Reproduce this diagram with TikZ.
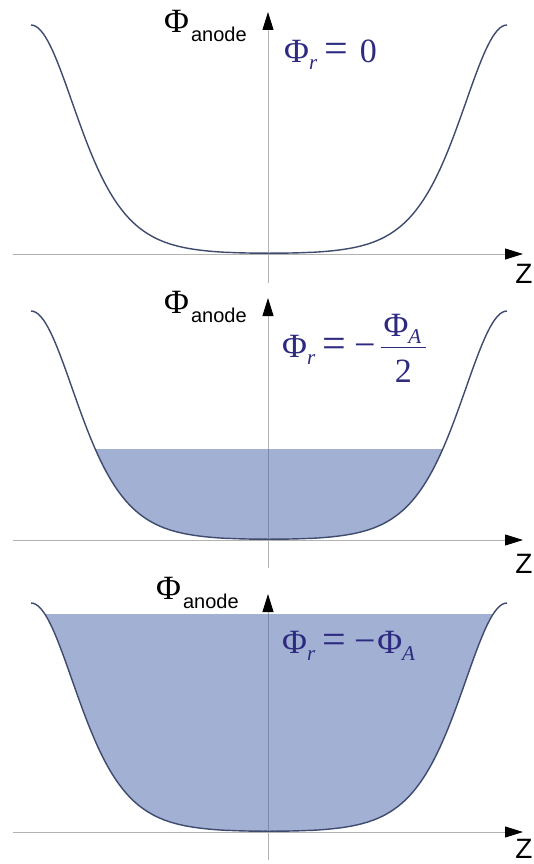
\documentclass[tikz,border=0pt]{standalone}
\usepackage{fontspec}
\setmainfont{Liberation Serif}
\newfontfamily\lsans{Liberation Sans}
\usetikzlibrary{arrows.meta}
\definecolor{fillblue}{RGB}{161,176,211}
\definecolor{curveblue}{RGB}{62,74,110}
\definecolor{formblue}{RGB}{45,42,128}
\definecolor{axisgray}{RGB}{178,178,178}
\definecolor{axisdark}{RGB}{125,137,170}
\newcommand\phianode{{\fontsize{34}{34}\selectfont Φ}\hspace{2pt}\raisebox{-9pt}{\lsans\fontsize{20}{20}\selectfont anode}}
\newcommand\fsub[1]{\raisebox{-7pt}{\fontsize{21}{21}\selectfont\itshape #1}}
\newcommand\feq{{\fontsize{42}{42}\selectfont =}}
\newcommand\fminus{{\fontsize{38}{38}\selectfont −}}
\tikzset{
  declare function={sechsq(\u)=4*exp(-2*abs(\u))/(1+exp(-2*abs(\u)))^2;
                    well(\x)=sechsq((\x-31)/62)+sechsq((\x-507)/62);},
  axisline/.style={draw=axisgray, line width=0.9pt},
  darkaxis/.style={draw=axisdark, line width=0.9pt},
  axisarrow/.style={-{Triangle[length=18pt,width=11pt,color=black]}},
  curve/.style={draw=curveblue, line width=1.4pt},
  wellfill/.style={fill=fillblue},
  lab/.style={inner sep=0pt, anchor=base west, text=black},
  formula/.style={inner sep=0pt, anchor=base west, text=formblue, font=\fontsize{34}{34}\selectfont},
  zlab/.style={inner sep=0pt, font=\lsans\fontsize{28}{28}\selectfont}
}
\begin{document}
\begin{tikzpicture}[x=1pt,y=-1pt]
\useasboundingbox (0,0) rectangle (533,864);
% ---------- panel 1 ----------
\coordinate (h1s) at (13,254); \coordinate (h1e) at (523,254);
\coordinate (v1s) at (268,283); \coordinate (v1e) at (268,12);
\draw[axisline,axisarrow] (h1s) -- (h1e);
\draw[axisline,axisarrow] (v1s) -- (v1e);
\draw[curve] plot[domain=31:507,samples=200] (\x,{254-229*well(\x)});
\node[lab] (a1) at (164,33) {\phianode};
\node[formula] (f1) at (284,63) {Φ\fsub{r}\hspace{7pt}\feq\hspace{12pt}0};
\node[zlab] (z1) at (524,274) {Z};
% ---------- panel 2 ----------
\coordinate (h2s) at (13,540); \coordinate (h2e) at (523,540);
\coordinate (v2s) at (268,568); \coordinate (v2e) at (268,298);
\begin{scope}
  \clip (0,449) rectangle (533,540);
  \fill[wellfill] plot[domain=31:507,samples=200] (\x,{540-229*well(\x)}) -- cycle;
\end{scope}
\draw[axisline,axisarrow] (h2s) -- (h2e);
\draw[axisline,axisarrow] (v2s) -- (v2e);
\begin{scope}
  \clip (0,449) rectangle (533,539);
  \draw[darkaxis] (v2s) -- (v2e);
\end{scope}
\draw[curve] plot[domain=31:507,samples=200] (\x,{540-229*well(\x)});
\node[lab] (a2) at (164,313) {\phianode};
\node[formula] (f2) at (282,357) {Φ\fsub{r}\hspace{7pt}\feq\hspace{9pt}\fminus\hspace{3pt}\raisebox{4pt}{${\displaystyle\frac{\mbox{\hspace{3pt}Φ\fsub{A}\hspace{5pt}}}{\mbox{\raisebox{-12pt}{2}}}}$}};
\node[zlab] (z2) at (524,564) {Z};
% ---------- panel 3 ----------
\coordinate (h3s) at (13,832); \coordinate (h3e) at (523,832);
\coordinate (v3s) at (268,860); \coordinate (v3e) at (268,594);
\begin{scope}
  \clip (0,614) rectangle (533,832);
  \fill[wellfill] plot[domain=31:507,samples=200] (\x,{832-229*well(\x)}) -- cycle;
\end{scope}
\draw[axisline,axisarrow] (h3s) -- (h3e);
\draw[axisline,axisarrow] (v3s) -- (v3e);
\begin{scope}
  \clip (0,614) rectangle (533,831);
  \draw[darkaxis] (v3s) -- (v3e);
\end{scope}
\draw[curve] plot[domain=31:507,samples=200] (\x,{832-229*well(\x)});
\node[lab] (a3) at (156,599) {\phianode};
\node[formula] (f3) at (282,653) {Φ\fsub{r}\hspace{7pt}\feq\hspace{9pt}\fminus\hspace{1pt}Φ\fsub{A}};
\node[zlab] (z3) at (524,849) {Z};
\end{tikzpicture}
\end{document}
